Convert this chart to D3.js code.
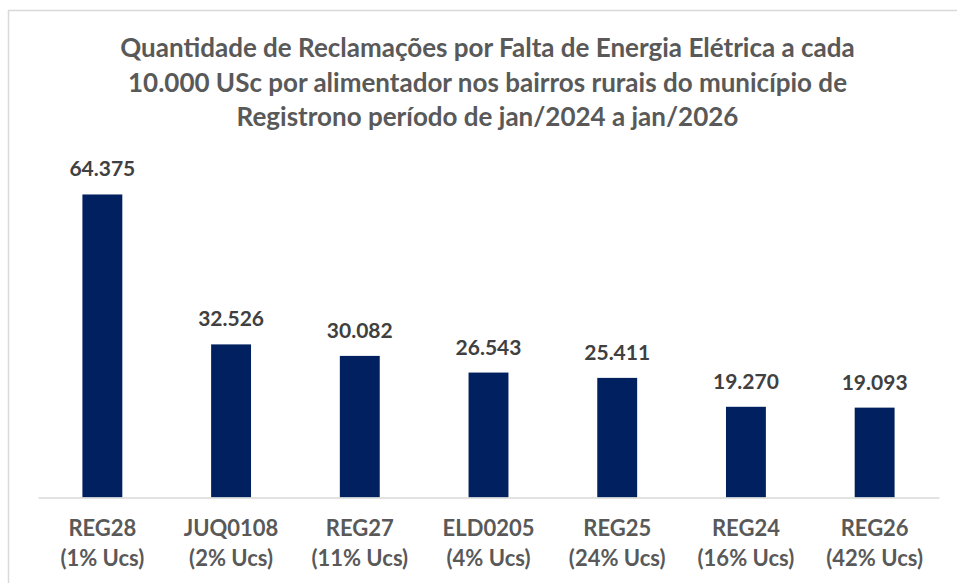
<!DOCTYPE html>
<html>
<head>
<meta charset="utf-8">
<script src="https://cdn.jsdelivr.net/npm/d3@7"></script>
<style>
  body { margin: 0; background: #fff; }
  svg { display: block; font-family: Lato, "Open Sans", sans-serif; }
</style>
</head>
<body>
<div id="chart"></div>
<script>
// Chart data
const feeders = ['REG28', 'JUQ0108', 'REG27', 'ELD0205', 'REG25', 'REG24', 'REG26'];
const ucShares = ['(1% Ucs)', '(2% Ucs)', '(11% Ucs)', '(4% Ucs)', '(24% Ucs)', '(16% Ucs)', '(42% Ucs)'];
const complaints = [64.375, 32.526, 30.082, 26.543, 25.411, 19.270, 19.093];
const titleLines = [
    'Quantidade de Reclamações por Falta de Energia Elétrica a cada',
    '10.000 USc por alimentador nos bairros rurais do município de',
    'Registrono período de jan/2024 a jan/2026'
];

const data = feeders.map((f, i) => ({ id: f, share: ucShares[i], value: complaints[i] }));

// Dimensions
const W = 957, H = 583;
const margin = { top: 168, right: 18, bottom: 85.5, left: 38 };
const width = W - margin.left - margin.right;
const height = H - margin.top - margin.bottom;

const svg = d3.select('#chart')
    .append('svg')
    .attr('width', W)
    .attr('height', H);

// chart border
svg.append('rect')
    .attr('x', 8.5)
    .attr('y', 10.5)
    .attr('width', 980)
    .attr('height', 620)
    .attr('fill', '#fff')
    .attr('stroke', '#d9d9d9')
    .attr('stroke-width', 1.5);

// Title
const title = svg.append('text')
    .attr('text-anchor', 'middle')
    .style('font-size', '26px')
    .style('font-weight', 'bold')
    .attr('fill', '#595959');

titleLines.forEach((line, i) => {
    title.append('tspan')
        .attr('x', 487.5)
        .attr('y', 57 + i * 34.6)
        .text(line);
});

const g = svg.append('g')
    .attr('transform', `translate(${margin.left},${margin.top})`);

// Scales
const xScale = d3.scaleBand()
    .domain(feeders)
    .range([0, width])
    .paddingInner(0.69)
    .paddingOuter(0.345);

const yScale = d3.scaleLinear()
    .domain([0, 70])
    .range([height, 0]);

// Bars
g.selectAll('.bar')
    .data(data)
    .enter()
    .append('rect')
    .attr('class', 'bar')
    .attr('x', d => xScale(d.id))
    .attr('y', d => yScale(d.value))
    .attr('width', xScale.bandwidth())
    .attr('height', d => height - yScale(d.value))
    .attr('fill', '#002060');

// Value labels
g.selectAll('.value')
    .data(data)
    .enter()
    .append('text')
    .attr('class', 'value')
    .attr('x', d => xScale(d.id) + xScale.bandwidth() / 2)
    .attr('y', d => yScale(d.value) - 18)
    .attr('text-anchor', 'middle')
    .style('font-size', '21px')
    .style('font-weight', 'bold')
    .attr('fill', '#404040')
    .text(d => d.value.toFixed(3));

// X axis
const xAxis = g.append('g')
    .attr('transform', `translate(0, ${height})`)
    .call(d3.axisBottom(xScale).tickSize(0).tickFormat(''));

xAxis.select('.domain')
    .attr('stroke', '#d9d9d9')
    .attr('stroke-width', 1.5);

xAxis.selectAll('.tick text').remove();

xAxis.selectAll('.tick')
    .append('text')
    .attr('text-anchor', 'middle')
    .attr('fill', '#595959')
    .style('font-size', '22px')
    .style('font-weight', 'bold')
    .style('font-family', 'Lato, sans-serif')
    .each(function(d, i) {
        const t = d3.select(this);
        t.append('tspan').attr('x', 0).attr('y', 38.5).text(d);
        t.append('tspan').attr('x', 0).attr('y', 68.5).text(ucShares[i]);
    });
</script>
</body>
</html>
